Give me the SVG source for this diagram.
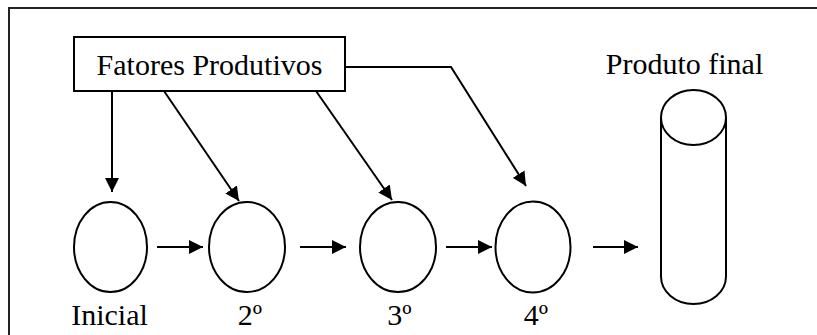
<svg xmlns="http://www.w3.org/2000/svg" width="817" height="335" viewBox="0 0 817 335">
  <defs>
    <marker id="arrow" markerWidth="14" markerHeight="14" refX="14" refY="7" orient="auto" markerUnits="userSpaceOnUse">
      <path d="M0,0 L14,7 L0,14 Z" fill="#000"/>
    </marker>
    <style>
      .shape { fill: #fff; stroke: #000; stroke-width: 2; }
      .conn { fill: none; stroke: #000; stroke-width: 2; marker-end: url(#arrow); }
      .label { font-family: "Liberation Serif", "Times New Roman", serif; font-size: 30px; fill: #000; text-anchor: middle; }
    </style>
  </defs>
  <rect width="817" height="335" fill="#fff"/>
  <!-- outer frame (continues past the right and bottom edges) -->
  <path d="M9,340 V8 H822" fill="none" stroke="#222" stroke-width="2"/>

  <g id="connectors">
    <line class="conn" x1="112" y1="91" x2="112" y2="192"/>
    <line class="conn" x1="164" y1="91" x2="239" y2="201"/>
    <line class="conn" x1="316" y1="91" x2="392" y2="200"/>
    <polyline class="conn" points="345,67 451,67 526,186"/>
    <line class="conn" x1="157" y1="247" x2="203" y2="247"/>
    <line class="conn" x1="300" y1="247" x2="346" y2="247"/>
    <line class="conn" x1="446" y1="247" x2="492" y2="247"/>
    <line class="conn" x1="593" y1="247" x2="638" y2="247"/>
  </g>

  <g id="fatores">
    <rect class="shape" x="74" y="37" width="271" height="54"/>
    <text class="label" x="209.5" y="75">Fatores Produtivos</text>
  </g>

  <g id="inicial">
    <ellipse class="shape" cx="110.5" cy="247" rx="36.5" ry="45"/>
    <text class="label" x="109.5" y="325">Inicial</text>
  </g>
  <g id="etapa2">
    <ellipse class="shape" cx="247" cy="247" rx="38" ry="45"/>
    <text class="label" x="250" y="325">2º</text>
  </g>
  <g id="etapa3">
    <ellipse class="shape" cx="398" cy="247" rx="38" ry="45"/>
    <text class="label" x="399.5" y="325">3º</text>
  </g>
  <g id="etapa4">
    <ellipse class="shape" cx="533" cy="247" rx="37.5" ry="45.5"/>
    <text class="label" x="536" y="325">4º</text>
  </g>

  <g id="produto-final">
    <path class="shape" d="M661,117.5 V276.5 A32.5,27.5 0 0 0 726,276.5 V117.5"/>
    <ellipse class="shape" cx="693.5" cy="117.5" rx="32.5" ry="27.5"/>
    <text class="label" x="684.5" y="74">Produto final</text>
  </g>
</svg>
